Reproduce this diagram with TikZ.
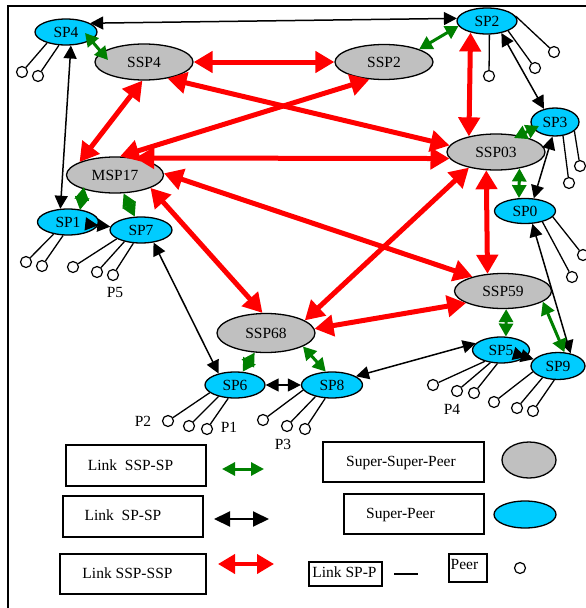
\documentclass[tikz,border=0pt]{standalone}
\usepackage{fontspec}
\setmainfont{Liberation Serif}
\usetikzlibrary{arrows.meta,shapes.geometric,calc}
\definecolor{spcyan}{HTML}{00CCFF}
\definecolor{sspgray}{HTML}{C0C0C0}
\definecolor{lgreen}{HTML}{008000}
\begin{document}
\begin{tikzpicture}[x=1pt,y=-1pt,
  every node/.style={font=\fontsize{15.5}{18}\selectfont},
  ssp/.style={ellipse, draw, fill=sspgray, line width=1.3pt, inner sep=0pt, minimum width=98pt, minimum height=36pt},
  sp/.style={ellipse, draw, fill=spcyan, line width=1.3pt, inner sep=0pt, minimum width=61pt, minimum height=26pt},
  peer/.style={circle, draw, fill=white, line width=1.2pt, minimum size=11pt, inner sep=0pt},
  plink/.style={line width=1.3pt},
  lbox/.style={draw, line width=1.3pt, rectangle, inner sep=0pt},
  lbl/.style={inner sep=0pt, text height=11pt, text depth=3pt},
  blk/.style={black, line width=1.5pt, arrows={Triangle[length=13pt,width=13pt]-Triangle[length=13pt,width=13pt]}},
  grn/.style={lgreen, line width=3pt, arrows={Triangle[length=13pt,width=14pt]-Triangle[length=13pt,width=14pt]}},
  rd/.style={red, line width=5pt, arrows={Triangle[length=19pt,width=21pt]-Triangle[length=19pt,width=21pt]}},
  blkleg/.style={black, line width=2pt, arrows={Triangle[length=16pt,width=15pt]-Triangle[length=16pt,width=15pt]}},
  grnleg/.style={lgreen, line width=3pt, arrows={Triangle[length=13pt,width=13pt]-Triangle[length=13pt,width=13pt]}},
  rdleg/.style={red, line width=4pt, arrows={Triangle[length=17pt,width=19pt]-Triangle[length=17pt,width=19pt]}}
]
\useasboundingbox (0,0) rectangle (586,608);
% frame
\coordinate (fbl) at (8,612);
\coordinate (ftl) at (8,6);
\coordinate (ftr) at (590,6);
\draw[line width=2pt] (fbl) -- (ftl) -- (ftr);

% super-super-peers
\node[ssp] (ssp4) at (144,62) {SSP4};
\node[ssp, minimum height=35pt] (ssp2) at (384,62) {SSP2};
\node[ssp] (ssp03) at (496,152) {SSP03};
\node[ssp, minimum width=97pt] (msp17) at (115,175) {MSP17};
\node[ssp, minimum width=97pt, minimum height=35pt] (ssp59) at (503,291) {SSP59};
\node[ssp, minimum height=39pt] (ssp68) at (266,333) {SSP68};

% super-peers
\node[sp, minimum width=62pt] (sp4) at (66,32) {SP4};
\node[sp, minimum width=60pt] (sp2) at (487,21) {SP2};
\node[sp, minimum width=48pt, minimum height=28pt] (sp3) at (555,122) {SP3};
\node[sp, minimum height=25pt] (sp0) at (525,211) {SP0};
\node[sp] (sp1) at (68,222) {SP1};
\node[sp, minimum width=62pt] (sp7) at (141,230) {SP7};
\node[sp, minimum width=60pt] (sp6) at (235,385) {SP6};
\node[sp] (sp8) at (332,385) {SP8};
\node[sp, minimum width=57pt] (sp5) at (501,350) {SP5};
\node[sp, minimum width=54pt, minimum height=27pt] (sp9) at (558,366) {SP9};

% peers
\node[peer] (p4a) at (22,72) {};
\node[peer] (p4b) at (38,76) {};
\node[peer] (p2a) at (489,76) {};
\node[peer] (p2b) at (535,68) {};
\node[peer] (p2c) at (554,52) {};
\node[peer] (p3a) at (569,183) {};
\node[peer] (p3b) at (580,166) {};
\node[peer] (p0a) at (583,255) {};
\node[peer] (p0b) at (572,277) {};
\node[peer] (p1a) at (26,262) {};
\node[peer] (p1b) at (42,266) {};
\node[peer] (p7a) at (73,267) {};
\node[peer] (p7b) at (97,272) {};
\node[peer] (p7c) at (113,275) {};
\node[peer] (p6a) at (168,421) {};
\node[peer] (p6b) at (189,426) {};
\node[peer] (p6c) at (207,429) {};
\node[peer] (p8a) at (263,420) {};
\node[peer] (p8b) at (287,426) {};
\node[peer] (p8c) at (305,429) {};
\node[peer] (p5a) at (433,385) {};
\node[peer] (p5b) at (457,391) {};
\node[peer] (p5c) at (474,393) {};
\node[peer] (p9a) at (494,402) {};
\node[peer] (p9b) at (517,408) {};
\node[peer] (p9c) at (533,411) {};

% peer links
\draw[plink] (sp4.210) -- (p4a);
\draw[plink] (sp4.242) -- (p4b);
\draw[plink] (sp2.-80) -- (p2a);
\draw[plink] (sp2.-25) -- (p2b);
\draw[plink] (sp2.10) -- (p2c);
\draw[plink] (sp3.-60) -- (p3a);
\draw[plink] (sp3.-25) -- (p3b);
\draw[plink] (sp0.-12) -- (p0a);
\draw[plink] (sp0.-32) -- (p0b);
\draw[plink] (sp1.220) -- (p1a);
\draw[plink] (sp1.250) -- (p1b);
\draw[plink] (sp7.200) -- (p7a);
\draw[plink] (sp7.215) -- (p7b);
\draw[plink] (sp7.240) -- (p7c);
\draw[plink] (sp6.197) -- (p6a);
\draw[plink] (sp6.215) -- (p6b);
\draw[plink] (sp6.243) -- (p6c);
\draw[plink] (sp8.190) -- (p8a);
\draw[plink] (sp8.215) -- (p8b);
\draw[plink] (sp8.243) -- (p8c);
\draw[plink] (sp5.215) -- (p5a);
\draw[plink] (sp5.230) -- (p5b);
\draw[plink] (sp5.255) -- (p5c);
\draw[plink] (sp9.193) -- (p9a);
\draw[plink] (sp9.217) -- (p9b);
\draw[plink] (sp9.255) -- (p9c);

% peer labels
\node[lbl] (lp5) at (115,293) {P5};
\node[lbl] (lp2) at (143,422) {P2};
\node[lbl] (lp1) at (229,428) {P1};
\node[lbl] (lp3) at (283,445) {P3};
\node[lbl] (lp4) at (452,410) {P4};

% SP-SP links
\draw[blk] (sp4.20) -- (sp2.175);
\draw[blk] (sp4.-70) -- (sp1.120);
\draw[blk] (sp1) -- (sp7);
\draw[blk] (sp7.-45) -- (sp6.145);
\draw[blk] (sp6) -- (sp8);
\draw[blk] (sp8.20) -- (sp5.165);
\draw[blk] (sp5) -- (sp9);
\draw[blk] (sp0.-60) -- (sp9.45);
\draw[blk] (sp2.-40) -- (sp3.130);
\draw[blk] (sp3.-100) -- (sp0.55);

% SSP-SP links
\draw[grn] ($(sp4)+(19,1)$) -- ($(ssp4)+(-36,-2)$);
\draw[grn] (sp2.190) -- (ssp2.20);
\draw[grn] ($(sp3)+(-16,4)$) -- ($(ssp03)+(18,-14)$);
\draw[grn] (ssp03.-35) -- (sp0.115);
\draw[grn] ($(msp17)+(-31,12)$) -- ($(sp1)+(12,-12)$);
\draw[grn] (msp17.-65) -- (sp7.115);
\draw[grn] (ssp68.-120) -- (sp6.60);
\draw[grn] (ssp68.-20) -- (sp8.115);
\draw[grn] (ssp59.-80) -- (sp5.70);
\draw[grn] (ssp59.-15) -- (sp9.65);

% SSP-SSP links
\draw[rd] (ssp4) -- (ssp2);
\draw[rd] (ssp4.-95) -- (msp17.160);
\draw[rd] (ssp4.-35) -- (ssp03.172);
\draw[rd] (ssp2.-130) -- (msp17.75);
\draw[rd] (msp17.40) -- (ssp03.188);
\draw[rd] (sp2.-145) -- (ssp03.150);
\draw[rd] (ssp03.-118) -- (ssp59.132);
\draw[rd] (ssp03.-150) -- (ssp68.18);
\draw[rd] (msp17.2) -- (ssp59.155);
\draw[rd] (msp17.-20) -- (ssp68.100);
\draw[rd] (ssp68.5) -- (ssp59.-162);

% legend
\node[lbox, minimum width=140pt, minimum height=41pt] (b1) at (136,465.5) {};
\node[lbl] (t1) at (130.5,466) {Link\ \ SSP-SP};
\coordinate (lga1) at (222,469);
\coordinate (lga2) at (264,469);
\draw[grnleg] (lga1) -- (lga2);

\node[lbox, minimum width=140pt, minimum height=41pt] (b2) at (133,516.5) {};
\node[lbl] (t2) at (123,516) {Link\ \ SP-SP};
\coordinate (lgb1) at (214,519);
\coordinate (lgb2) at (269,519);
\draw[blkleg] (lgb1) -- (lgb2);

\node[lbox, minimum width=146pt, minimum height=40pt] (b3) at (133,574) {};
\node[lbl] (t3) at (127.5,574) {Link SSP-SSP};
\coordinate (lgc1) at (218,564);
\coordinate (lgc2) at (274,564);
\draw[rdleg] (lgc1) -- (lgc2);

\node[lbox, minimum width=161pt, minimum height=40pt] (b4) at (403.5,462) {};
\node[lbl] (t4) at (401,462) {Super-Super-Peer};
\node[ssp, minimum width=54pt, minimum height=36pt] (lgssp) at (529,460) {};

\node[lbox, minimum width=140pt, minimum height=40pt] (b5) at (414,514) {};
\node[lbl] (t5) at (400.5,514) {Super-Peer};
\node[sp, minimum width=62pt, minimum height=27pt] (lgsp) at (525,514.5) {};

\node[lbox, minimum width=73pt, minimum height=24pt] (b6) at (345.5,574) {};
\node[lbl] (t6) at (344.5,573) {Link SP-P};
\coordinate (lgd1) at (394,574);
\coordinate (lgd2) at (418,574);
\draw[plink] (lgd1) -- (lgd2);

\node[lbox, minimum width=38pt, minimum height=28pt] (b7) at (468,568) {};
\node[lbl] (t7) at (464.5,565) {Peer};
\node[peer] (lgpeer) at (520,568) {};
\end{tikzpicture}
\end{document}
